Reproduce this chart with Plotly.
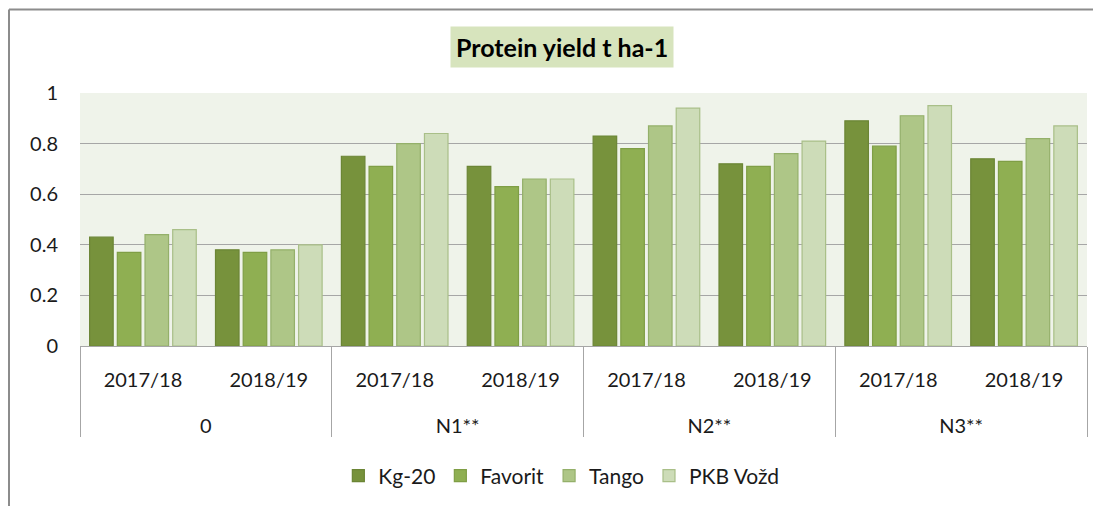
import plotly.graph_objects as go

treatments = ["0", "0", "N1**", "N1**", "N2**", "N2**", "N3**", "N3**"]
seasons = ["2017/18", "2018/19"] * 4

varieties = ["Kg-20", "Favorit", "Tango", "PKB Vožd"]
kg20 = [0.43, 0.38, 0.75, 0.71, 0.83, 0.72, 0.89, 0.74]
favorit = [0.37, 0.37, 0.71, 0.63, 0.78, 0.71, 0.79, 0.73]
tango = [0.44, 0.38, 0.80, 0.66, 0.87, 0.76, 0.91, 0.82]
pkb_vozd = [0.46, 0.40, 0.84, 0.66, 0.94, 0.81, 0.95, 0.87]

series = [kg20, favorit, tango, pkb_vozd]
fills = ["#77923C", "#8FAF52", "#AEC687", "#CDDCB8"]
lines = ["#6B8535", "#7F9E45", "#94B06A", "#A9BF88"]

FONT = "Lato, Calibri, sans-serif"

# labels are drawn at 20px inside a 16px tick font; blank lines set the level spacing
BIG = "<span style='font-size:20px'>{}</span>"
PAD = "<span style='color:rgba(0,0,0,0)'>.</span>"
outer_lbl = [BIG.format(t) for t in treatments]
inner_lbl = ["<br>" + BIG.format(s) + "<br>" + PAD + "<br>" + PAD for s in seasons]

fig = go.Figure()
for name, vals, fc, lc in zip(varieties, series, fills, lines):
    fig.add_trace(go.Bar(
        name=name, x=[outer_lbl, inner_lbl], y=vals,
        marker=dict(color=fc, line=dict(color=lc, width=1.2)),
    ))

# the page body has an 8px margin, so the figure is sized/offset to compensate
fig.update_layout(
    width=1093, height=498,
    margin=dict(l=72, r=14, t=85, b=160, autoexpand=False),
    paper_bgcolor="white", plot_bgcolor="#EFF3EA",
    barmode="group", bargap=0.12, bargroupgap=0.15,
    font=dict(family=FONT, size=20, color="#1a1a1a"),
    showlegend=True,
    legend=dict(orientation="h", x=0.478, xanchor="center", y=-0.514, yanchor="middle",
                font=dict(size=21, color="#1a1a1a"), itemwidth=30, traceorder="normal"),
    annotations=[dict(
        text="<b>Protein yield t ha-1</b>", xref="paper", yref="paper",
        x=0.479, y=1.18, xanchor="center", yanchor="middle", showarrow=False,
        font=dict(size=25, color="#000000", family=FONT),
        bgcolor="#D7E4BD", borderpad=5,
    )],
    shapes=[
        dict(type="line", xref="paper", yref="paper", x0=-0.0705, x1=1.02, y0=1.33, y1=1.33,
             line=dict(color="#8C8C8C", width=2)),
        dict(type="line", xref="paper", yref="paper", x0=-0.0705, x1=-0.0705, y0=1.33, y1=-0.7,
             line=dict(color="#8C8C8C", width=2)),
    ],
)
fig.update_yaxes(range=[0, 1], dtick=0.2, showgrid=True, gridcolor="#A6A6A6", gridwidth=1,
                 zeroline=False, showline=False, ticks="", ticklabelstandoff=21,
                 tickfont=dict(size=20))
fig.update_xaxes(type="multicategory", showline=True, linecolor="#A6A6A6", linewidth=1,
                 mirror=False, showdividers=True, dividercolor="#A6A6A6", dividerwidth=1,
                 ticks="", tickfont=dict(size=16))

fig.write_html("out.html")
